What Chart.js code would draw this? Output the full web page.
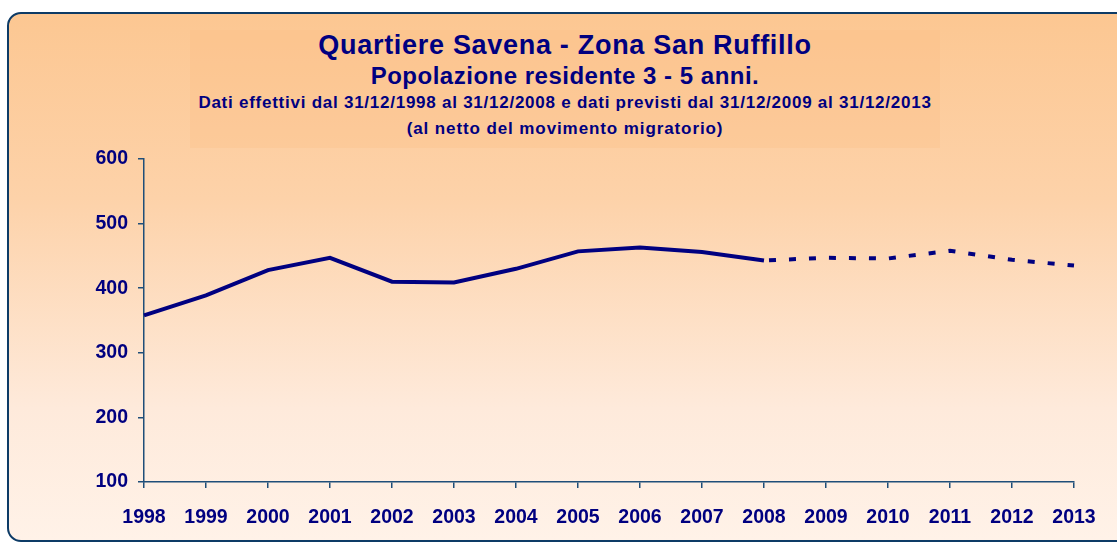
<!DOCTYPE html>
<html>
<head>
<meta charset="utf-8">
<script src="https://cdn.jsdelivr.net/npm/chart.js@4/dist/chart.umd.min.js"></script>
<style>
  html, body { margin: 0; padding: 0; background: #fff; width: 1117px; height: 542px; overflow: hidden; }
  #frame {
    position: absolute; left: 7px; top: 12px; width: 1140px; height: 526px;
    border: 2px solid #0d3b66; border-radius: 14px;
    background: linear-gradient(to bottom, #fcc792 0%, #fdd2a9 35%, #feeadb 75%, #fff2e8 100%);
  }
  #titlebox {
    position: absolute; left: 190px; top: 30px; width: 750px; height: 118px;
    background: rgba(250, 188, 128, 0.25);
  }
  .t { position: absolute; left: 0; width: 100%; text-align: center; color: #000080;
       font-family: "Liberation Sans", Arial, sans-serif; font-weight: bold; white-space: nowrap; }
  #t1 { top: 0px; font-size: 27px; line-height: 30px; letter-spacing: 0.7px; }
  #t2 { top: 33px; font-size: 24px; line-height: 26px; letter-spacing: 0.5px; }
  #t3 { top: 64px; font-size: 17px; line-height: 18px; letter-spacing: 0.75px; }
  #t4 { top: 90px; font-size: 17px; line-height: 18px; letter-spacing: 0.9px; }
  #chart { position: absolute; left: 0; top: 0; }
</style>
</head>
<body>
<div id="frame"></div>
<div id="titlebox">
  <div class="t" id="t1">Quartiere Savena - Zona San Ruffillo</div>
  <div class="t" id="t2">Popolazione residente 3 - 5 anni.</div>
  <div class="t" id="t3">Dati effettivi dal 31/12/1998 al 31/12/2008 e dati previsti dal 31/12/2009 al 31/12/2013</div>
  <div class="t" id="t4">(al netto del movimento migratorio)</div>
</div>
<canvas id="chart" width="1117" height="542"></canvas>
<script>
// years on the x axis
const years = ['1998', '1999', '2000', '2001', '2002', '2003', '2004', '2005',
               '2006', '2007', '2008', '2009', '2010', '2011', '2012', '2013'];
// actual values 1998-2008
const actual = [358, 389, 428, 447, 410, 409, 430, 457, 463, 456, 443,
                null, null, null, null, null];
// forecast 2009-2013 (joined to 2008)
const forecast = [null, null, null, null, null, null, null, null, null, null, 443,
                  447, 446, 458, 444, 435];
const yTicks = [100, 200, 300, 400, 500, 600];

const navy = '#000080';
const axisColor = '#1f4e79';
const tickFont = { family: '"Liberation Sans", Arial, sans-serif', size: 19.5, weight: 'bold' };

const ctx = document.getElementById('chart').getContext('2d');
new Chart(ctx, {
    type: 'line',
    data: {
        labels: years,
        datasets: [
            {
                label: 'Dati effettivi',
                data: actual,
                borderColor: navy,
                borderWidth: 4,
                pointRadius: 0,
                tension: 0,
                fill: false,
            },
            {
                label: 'Dati previsti',
                data: forecast,
                borderColor: navy,
                borderWidth: 4,
                borderDash: [7, 13],
                borderDashOffset: -5,
                pointRadius: 0,
                tension: 0,
                fill: false,
            },
        ],
    },
    options: {
        responsive: false,
        animation: false,
        devicePixelRatio: 1,
        layout: { padding: { left: 0, right: 43, top: 159, bottom: 0 } },
        plugins: {
            legend: { display: false },
            title: { display: false },
            tooltip: { enabled: false },
        },
        scales: {
            x: {
                type: 'category',
                offset: false,
                grid: { drawOnChartArea: false, drawTicks: true, tickLength: 6, color: axisColor, lineWidth: 1.5 },
                border: { display: true, color: axisColor, width: 1.5 },
                ticks: { color: navy, font: tickFont, padding: 18, maxRotation: 0, autoSkip: false },
                afterFit: (scale) => { scale.height = 60; },
            },
            y: {
                min: yTicks[0],
                max: yTicks[yTicks.length - 1],
                grid: { drawOnChartArea: false, drawTicks: true, tickLength: 6, color: axisColor, lineWidth: 1.5 },
                border: { display: true, color: axisColor, width: 1.5 },
                ticks: { color: navy, font: tickFont, padding: 10, stepSize: 100 },
                afterFit: (scale) => { scale.width = 144; },
            },
        },
    },
});
</script>
</body>
</html>
